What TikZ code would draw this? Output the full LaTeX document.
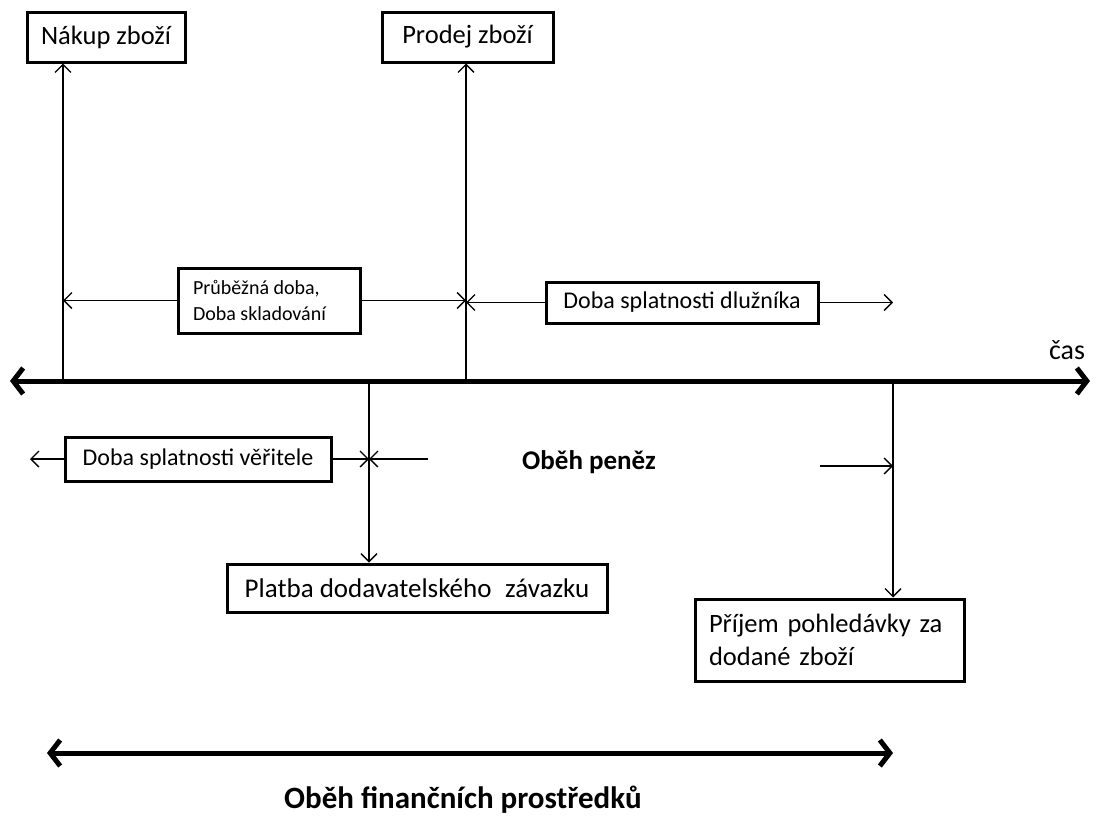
\documentclass[tikz,border=0pt]{standalone}
\usepackage{fontspec}
\setmainfont{Carlito}
\usetikzlibrary{arrows.meta}
\tikzset{
  x=1pt,y=-1pt,
  box/.style={draw,line width=3pt,inner sep=0pt,font=\fontsize{26.5}{33}\selectfont},
  sbox/.style={draw,line width=3pt,inner sep=0pt,font=\fontsize{24}{28}\selectfont},
  thin/.style={line width=1.3pt,-{Straight Barb[length=8pt,width=16pt,line width=1.3pt]}},
  thick/.style={line width=5pt,{Straight Barb[length=10pt,width=26pt,line width=5pt]}-{Straight Barb[length=10pt,width=26pt,line width=5pt]}},
  lbl/.style={font=\fontsize{28}{33}\selectfont},
  blbl/.style={font=\bfseries\fontsize{27}{33}\selectfont},
}
\begin{document}
\begin{tikzpicture}
\useasboundingbox (0,0) rectangle (1108,819);
% boxes
\node[box,minimum width=158pt,minimum height=50pt] (nakup) at (106,37) {Nákup zboží};
\node[box,minimum width=171pt,minimum height=50pt] (prodej) at (467.5,37) {Prodej zboží};
\node[draw,line width=3pt,inner xsep=15pt,inner ysep=0pt,text width=152pt,minimum height=65pt,align=flush left,font=\fontsize{20}{26}\selectfont] (prub) at (269,300.5) {Průběžná doba,\\Doba skladování};
\node[sbox,minimum width=272pt,minimum height=41pt] (dluz) at (682,302.5) {Doba splatnosti dlužníka};
\node[sbox,minimum width=266pt,minimum height=44pt] (veri) at (198,459) {Doba splatnosti věřitele};
\node[box,font=\fontsize{27}{33}\selectfont,minimum width=380pt,minimum height=48pt] (platba) at (417,588) {Platba dodavatelského\,\,\,závazku};
\node[box,minimum height=82pt,align=left,inner xsep=14pt,text width=241pt] (prijem) at (829.5,640) {Příjem pohledávky za\\dodané zboží};
% axis
\coordinate (axL) at (10,381);
\coordinate (axR) at (1090,381);
\draw[thick] (axL) -- (axR);
\node[lbl] (cas) at (1067,350) {čas};
% points on axis
\coordinate (a1) at (63,381);
\coordinate (a2) at (466,381);
\coordinate (a3) at (369,381);
\coordinate (a4) at (893,381);
\draw[thin] (a1) -- (a1 |- nakup.south);
\draw[thin] (a2) -- (a2 |- prodej.south);
\draw[thin] (a3) -- (a3 |- platba.north);
\draw[thin] (a4) -- (a4 |- prijem.north);
% upper duration arrows
\draw[thin] (prub.west) -- (a1 |- prub.west);
\draw[thin] (prub.east) -- (a2 |- prub.east);
\coordinate (d1) at (466,302.5);
\coordinate (d2) at (893,302.5);
\draw[thin] (dluz.west) -- (d1);
\draw[thin] (dluz.east) -- (d2);
% lower arrows
\coordinate (v0) at (30,459);
\coordinate (v1) at (369,459);
\coordinate (v2) at (428,459);
\draw[thin] (veri.west) -- (v0);
\draw[thin] (veri.east) -- (v1);
\draw[thin] (v2) -- (v1);
\node[blbl] (obeh) at (589,462) {Oběh peněz};
\coordinate (p1) at (820,466);
\coordinate (p2) at (893,466);
\draw[thin] (p1) -- (p2);
% bottom
\coordinate (bL) at (47,753);
\coordinate (bR) at (893,753);
\draw[thick] (bL) -- (bR);
\node[font=\bfseries\fontsize{31}{36}\selectfont] (fin) at (463,800) {Oběh finančních prostředků};
\end{tikzpicture}
\end{document}
